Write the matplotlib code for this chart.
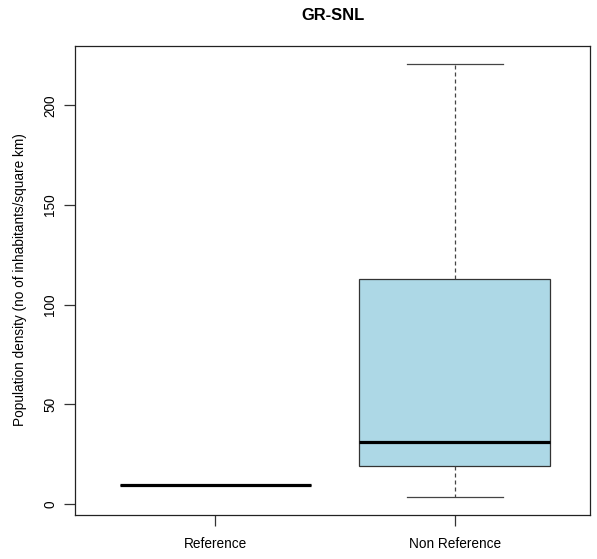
import matplotlib
matplotlib.use('Agg')
import matplotlib.pyplot as plt

plt.rcParams['font.family'] = ['Liberation Sans', 'DejaVu Sans']

# values
groups = ['Reference', 'Non Reference']
whislo = [9.4, 3.4]
q1 = [9.4, 19.2]
med = [9.4, 31.3]
q3 = [9.4, 112.9]
whishi = [9.4, 220.9]
yticks = [0, 50, 100, 150, 200]


def main():
    W, H = 597, 559
    fig = plt.figure(figsize=(W / 100, H / 100), dpi=100)
    left, right, top, bottom = 75.3, 590, 45.7, 515
    ax = fig.add_axes([left / W, 1 - bottom / H, (right - left) / W, (bottom - top) / H])

    stats = []
    for i, g in enumerate(groups):
        stats.append(dict(label=g, whislo=whislo[i], q1=q1[i], med=med[i],
                          q3=q3[i], whishi=whishi[i], fliers=[]))

    ax.bxp(stats, positions=[1, 2], widths=0.8, patch_artist=True,
           showfliers=False,
           boxprops=dict(facecolor='#ADD8E6', edgecolor='#333333', linewidth=0.9),
           medianprops=dict(color='black', linewidth=2.3, solid_capstyle='butt'),
           whiskerprops=dict(color='#444444', linewidth=0.9, linestyle=(0, (3.2, 2.4))),
           capprops=dict(color='#444444', linewidth=0.9),
           capwidths=0.4)

    ax.set_xlim(0.415, 2.565)
    ax.set_ylim(-5.5, 230.0)
    ax.set_yticks(yticks)
    ax.set_yticklabels([str(v) for v in yticks], rotation=90, va='center')
    ax.set_xticks([1, 2])
    ax.set_xticklabels(groups)

    ax.tick_params(axis='y', length=8, width=0.9, pad=5, labelsize=9.8, color='#333333')
    ax.tick_params(axis='x', length=8, width=0.9, pad=7.5, labelsize=9.8, color='#333333')
    for s in ax.spines.values():
        s.set_color('#222222')
        s.set_linewidth(0.9)

    fig.text(20 / W, 1 - 280 / H, 'Population density (no of inhabitants/square km)',
             rotation=90, ha='center', va='center', fontsize=9.8)
    fig.text(333 / W, 1 - 15 / H, 'GR-SNL', ha='center', va='center',
             fontsize=11.9, fontweight='bold')

    fig.savefig('out.png', dpi=100)


if __name__ == "__main__":
    main()
